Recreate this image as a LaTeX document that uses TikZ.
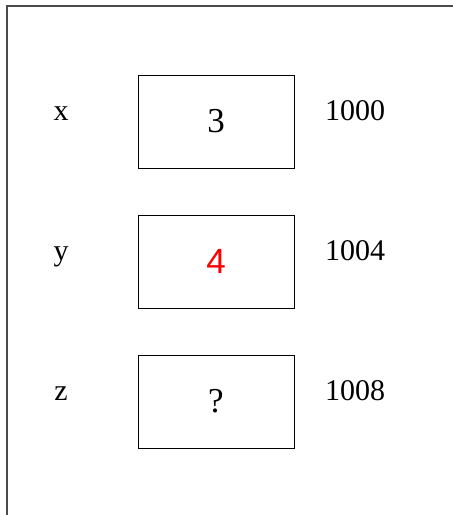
\documentclass[tikz,border=0pt]{standalone}
\usepackage{fontspec}
\setmainfont{Liberation Serif}
\newfontfamily\alertfont{Liberation Sans}
\usetikzlibrary{positioning}
\definecolor{framegray}{RGB}{75,75,75}

\begin{document}
\begin{tikzpicture}[x=1pt,y=-1pt,
  cell/.style={draw,line width=0.9pt,minimum width=156pt,minimum height=93pt,
    inner sep=0pt,font=\fontsize{35}{40}\selectfont},
  varname/.style={anchor=base,inner sep=0pt,font=\fontsize{30}{35}\selectfont},
  addr/.style={anchor=base west,inner sep=0pt,font=\fontsize{30}{35}\selectfont}]
  \useasboundingbox (0,0) rectangle (453,515);
  \clip (0,0) rectangle (453,515);
  % Frame border
  \draw[framegray,line width=2.6pt] (7,530) -- (7,6) -- (470,6);
  % Memory cells
  \foreach \lab/\val/\col/\adr [count=\i from 0] in
      {x/3/black/1000,y/{\alertfont 4}/red/1004,z/?/black/1008} {
    \node[cell,text=\col] (cell\lab) at (216,121.5+140*\i) {\val};
    \node[varname] (name\lab) at (61,120+140*\i) {\lab};
    \node[addr] (addr\lab) at (325,120+140*\i) {\adr};
  }
\end{tikzpicture}
\end{document}
